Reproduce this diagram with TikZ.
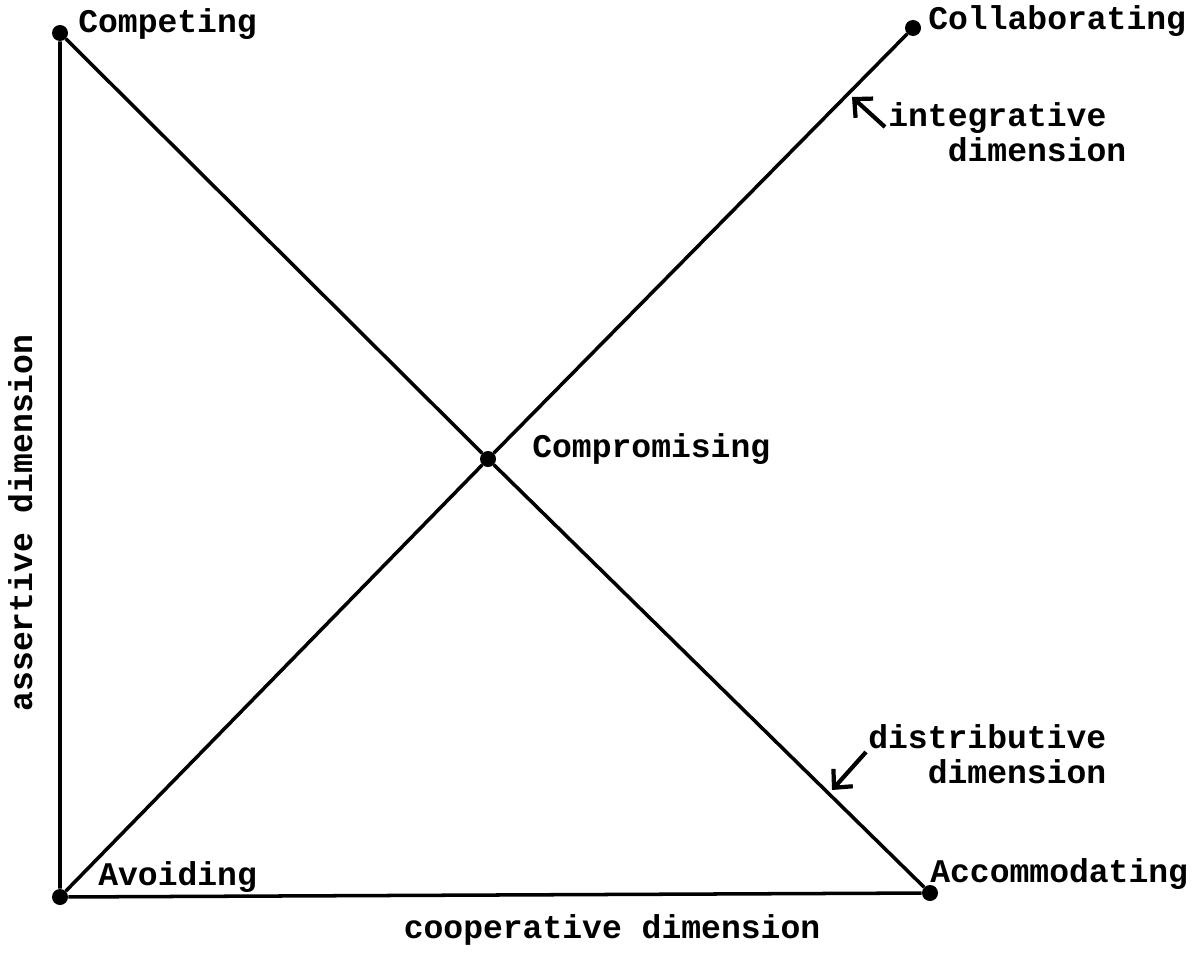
\documentclass[tikz,border=0pt]{standalone}
\usepackage{fontspec}
\setmonofont{Liberation Mono}
\usetikzlibrary{positioning,arrows.meta}

\begin{document}
\begin{tikzpicture}[x=0.025cm,y=-0.025cm,>={Straight Barb[length=3.4mm,width=6.5mm]},
  dot/.style={circle,fill=black,inner sep=0pt,minimum size=0.4cm},
  lbl/.style={font=\fontsize{23.5}{24.2}\selectfont\ttfamily\bfseries,inner sep=0pt},
  edge/.style={line width=2.5pt}]
\useasboundingbox (0,0) rectangle (1195,959);
\node[dot] (cmp) at (60,33) {};
\node[dot] (col) at (913,28) {};
\node[dot] (pro) at (488,459) {};
\node[dot] (avo) at (60,897) {};
\node[dot] (acc) at (930,893) {};
\draw[edge] (cmp) -- (avo) -- (acc);
\draw[edge] (cmp) -- (pro) -- (acc);
\draw[edge] (avo) -- (pro) -- (col);
\node[lbl,anchor=base west] (tcmp) at (78,33) {Competing};
\node[lbl,anchor=base west] (tcol) at (928,30) {Collaborating};
\node[lbl,anchor=base west] (tpro) at (532,457) {Compromising};
\node[lbl,anchor=base west] (tavo) at (98,885) {Avoiding};
\node[lbl,anchor=base west] (tacc) at (930,882) {Accommodating};
\node[lbl,anchor=base] (tcoop) at (612,938) {cooperative dimension};
\node[lbl,anchor=base,rotate=90] (tass) at (32,523) {assertive dimension};
% labels on the two diagonals
\node[lbl,anchor=base west,align=left] (tint) at (888,161) {integrative\\\phantom{int}dimension};
\node[lbl,anchor=base west,align=left] (tdis) at (868,783) {distributive\\\phantom{dis}dimension};
\coordinate (tipI) at (852,97);
\coordinate (tipD) at (832,790);
\draw[->,line width=3pt] ([shift={(-3,-34)}]tint.base west) -- (tipI);
\draw[->,line width=3pt] ([shift={(-2,-31)}]tdis.base west) -- (tipD);
\end{tikzpicture}
\end{document}
